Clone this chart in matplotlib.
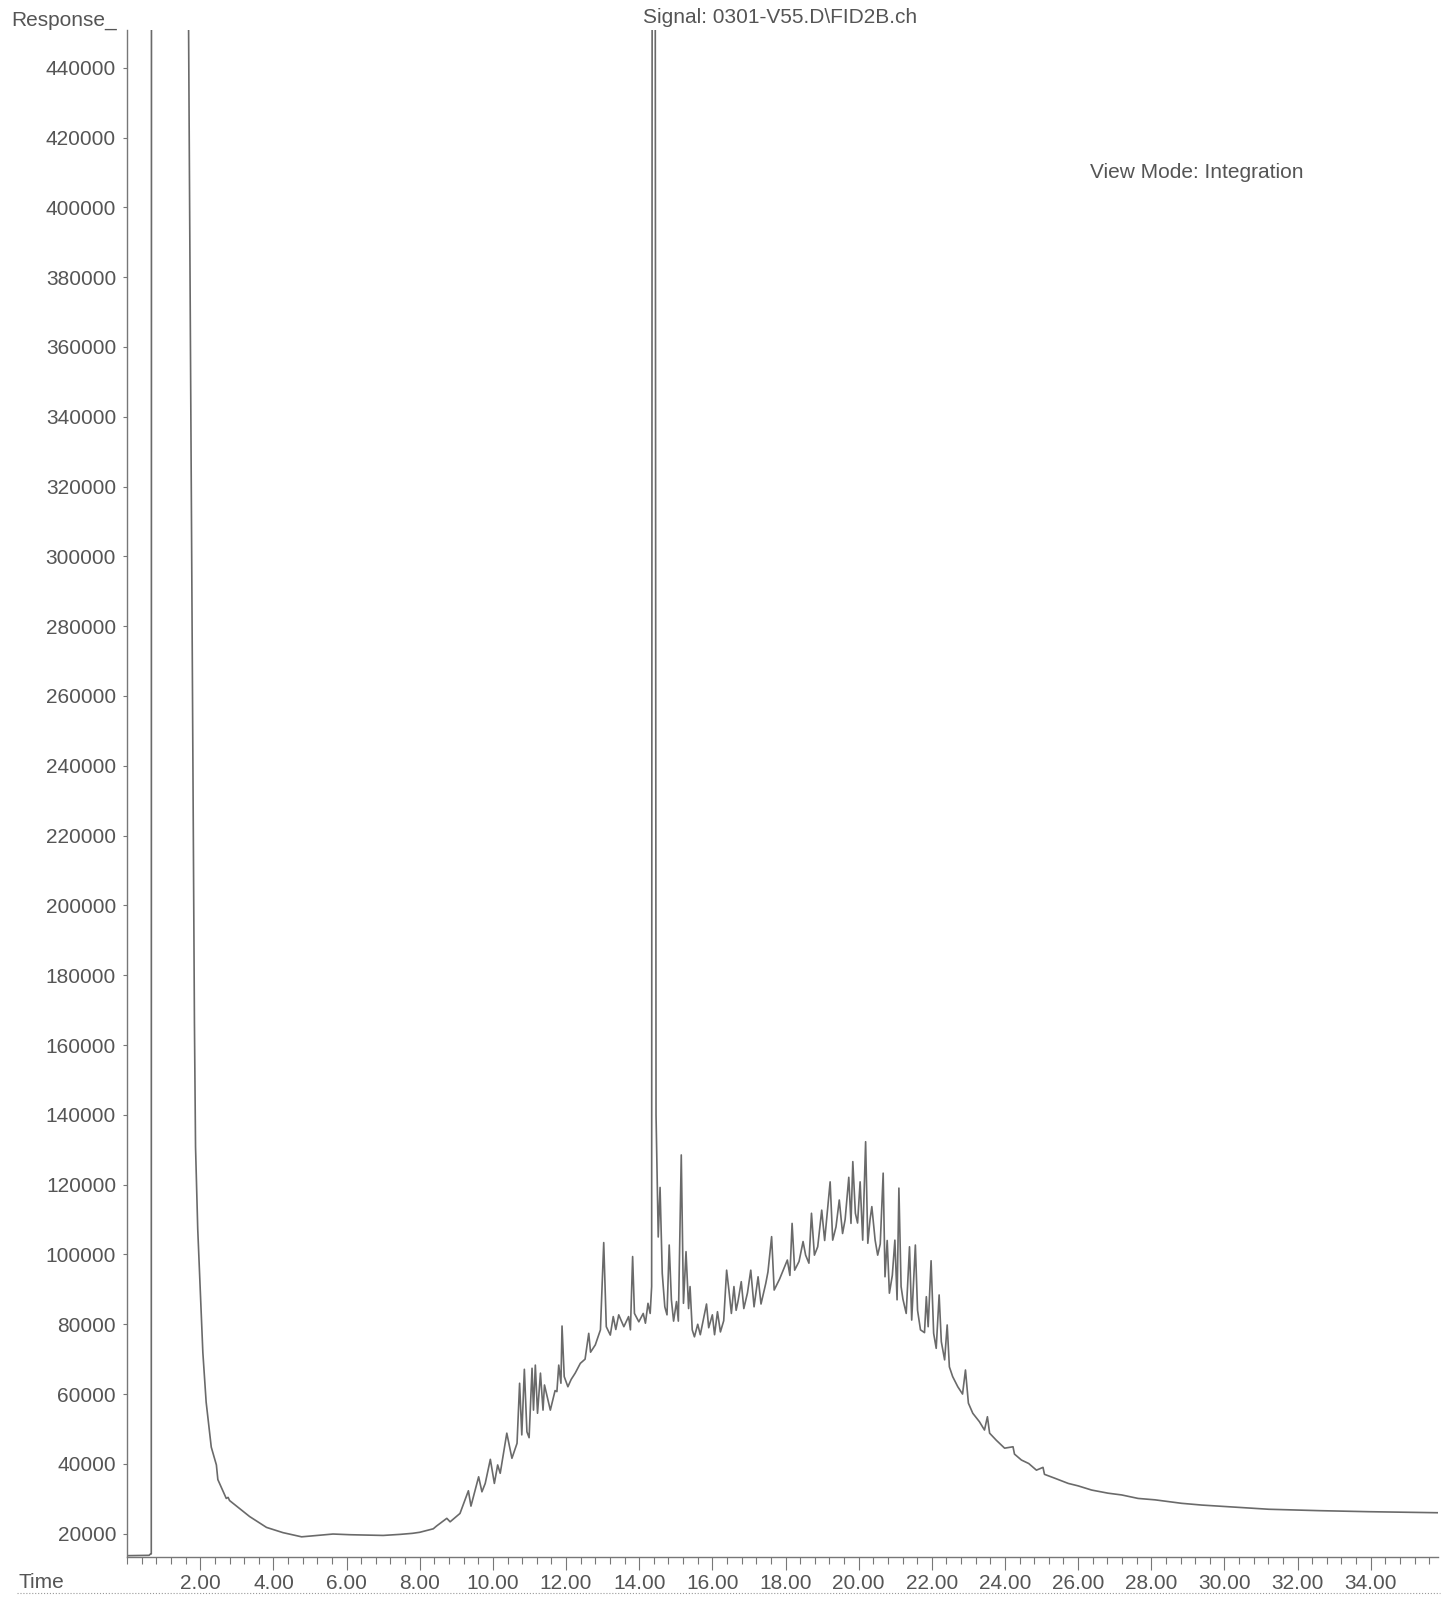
import matplotlib
matplotlib.use("Agg")
import matplotlib.pyplot as plt
from matplotlib.ticker import MultipleLocator

# trace (minutes, response)
time = [0.00, 0.60, 0.64, 0.66, 0.67, 1.43, 1.82, 1.84, 1.87, 1.93, 2.00, 2.07, 2.16,
        2.30, 2.44, 2.48, 2.71, 2.76, 2.80, 3.35, 3.81, 4.26, 4.77, 5.20, 5.63, 6.10,
        6.55, 7.00, 7.46, 7.80, 8.00, 8.37, 8.46, 8.74, 8.83, 9.10, 9.33, 9.40, 9.61,
        9.70, 9.79, 9.93, 10.04, 10.13, 10.20, 10.38, 10.52, 10.66, 10.73, 10.79, 10.86,
        10.93, 10.99, 11.07, 11.11, 11.16, 11.22, 11.30, 11.37, 11.41, 11.57, 11.70,
        11.75, 11.80, 11.86, 11.89, 11.95, 12.05, 12.14, 12.25, 12.39, 12.52, 12.62,
        12.67, 12.80, 12.94, 13.03, 13.10, 13.21, 13.29, 13.36, 13.44, 13.58, 13.71,
        13.76, 13.82, 13.87, 13.99, 14.11, 14.17, 14.24, 14.30, 14.34, 14.37, 14.41,
        14.46, 14.52, 14.57, 14.63, 14.70, 14.76, 14.82, 14.88, 14.94, 15.02, 15.07,
        15.15, 15.21, 15.28, 15.35, 15.39, 15.45, 15.51, 15.60, 15.67, 15.84, 15.90,
        16.00, 16.06, 16.14, 16.22, 16.31, 16.39, 16.45, 16.52, 16.59, 16.65, 16.70,
        16.79, 16.86, 16.96, 17.05, 17.14, 17.25, 17.33, 17.46, 17.52, 17.62, 17.69,
        17.84, 18.05, 18.12, 18.18, 18.25, 18.37, 18.48, 18.55, 18.64, 18.71, 18.79,
        18.88, 18.99, 19.07, 19.22, 19.29, 19.38, 19.47, 19.56, 19.63, 19.73, 19.79,
        19.84, 19.91, 19.97, 20.04, 20.11, 20.19, 20.25, 20.31, 20.36, 20.45, 20.52,
        20.59, 20.67, 20.72, 20.78, 20.84, 20.92, 20.99, 21.05, 21.10, 21.16, 21.21,
        21.30, 21.39, 21.45, 21.55, 21.61, 21.69, 21.80, 21.85, 21.90, 21.98, 22.05,
        22.12, 22.20, 22.26, 22.35, 22.42, 22.48, 22.57, 22.71, 22.84, 22.92, 23.00,
        23.12, 23.30, 23.44, 23.52, 23.58, 23.76, 23.99, 24.22, 24.26, 24.45, 24.65,
        24.86, 25.04, 25.08, 25.36, 25.73, 26.00, 26.37, 26.82, 27.19, 27.64, 28.10,
        28.83, 29.38, 30.29, 31.21, 32.58, 33.95, 35.84]
response = [13700, 13800, 14200, 14200, 900000, 900000, 200000, 166300, 130800, 107300,
            89500, 71900, 57700, 44800, 39700, 35500, 30100, 30400, 29500, 24900, 21800,
            20300, 19100, 19500, 19900, 19700, 19600, 19500, 19800, 20100, 20400, 21400,
            22200, 24400, 23400, 25800, 32300, 27900, 36300, 32000, 34400, 41300, 34400,
            39700, 37300, 48800, 41600, 45900, 63100, 48300, 67100, 49200, 47500, 67400,
            55400, 68300, 54500, 66000, 55400, 62600, 55400, 61000, 60700, 68300, 63100,
            79500, 65000, 62100, 64200, 66000, 68800, 70000, 77400, 72000, 74100, 78400,
            103400, 79300, 76900, 82200, 78500, 82700, 79300, 82200, 78400, 99400, 83100,
            80700, 83100, 80300, 86000, 83100, 90800, 900000, 900000, 140000, 105000,
            119200, 94600, 85000, 82700, 102700, 87000, 80900, 86500, 80900, 128500,
            86000, 100800, 84500, 90800, 78400, 76400, 80000, 77000, 85800, 79000, 82700,
            77000, 83600, 77800, 81000, 95500, 90000, 83100, 90800, 84000, 86500, 92200,
            84500, 89000, 95500, 85000, 93600, 85800, 91700, 95000, 105100, 89800, 93000,
            98400, 94000, 108900, 95500, 98000, 103700, 99800, 97500, 111800, 99800,
            102200, 112700, 104000, 120800, 104100, 107900, 115600, 106000, 110000,
            122100, 108900, 126600, 111800, 109000, 120800, 104100, 132300, 103200,
            109900, 113700, 104100, 99800, 103000, 123300, 93600, 104000, 88900, 94000,
            104100, 87000, 119000, 90800, 87200, 83100, 102200, 81200, 102700, 84000,
            78400, 77600, 87900, 79300, 98200, 77400, 73100, 88400, 75000, 69800, 79800,
            67800, 65000, 62100, 60000, 66900, 57400, 54500, 52100, 49700, 53500, 48800,
            46800, 44500, 44900, 42800, 41100, 40100, 38200, 39000, 37000, 35900, 34400,
            33700, 32500, 31600, 31100, 30100, 29700, 28700, 28200, 27600, 27000, 26600,
            26300, 26000]

y_ticks = [20000 * k for k in range(1, 23)]
x_ticks = [2.0 * k for k in range(1, 18)]

plt.rcParams['font.family'] = ['Liberation Sans', 'DejaVu Sans']
grey = '#555555'

fig = plt.figure(figsize=(14.53, 16.02), dpi=100)
ax = fig.add_axes([0.0875, 0.0281, 0.9897 - 0.0875, 0.98127 - 0.0281])

ax.plot(time, response, color='#6a6a6a', linewidth=1.2)

ax.set_xlim(0, 35.84)
ax.set_ylim(13325, 450800)

for s in ['top', 'right']:
    ax.spines[s].set_visible(False)
for s in ['left', 'bottom']:
    ax.spines[s].set_color('#777777')
    ax.spines[s].set_linewidth(1.0)

ax.set_yticks(y_ticks)
ax.set_yticklabels([str(v) for v in y_ticks])
ax.set_xticks(x_ticks)
ax.set_xticklabels(['%.2f' % v for v in x_ticks])
ax.xaxis.set_minor_locator(MultipleLocator(0.4))

ax.tick_params(axis='y', length=3, width=0.8, color='#777777', pad=5,
               labelsize=15, labelcolor=grey)
ax.tick_params(axis='x', which='major', length=9, width=0.8, color='#777777', pad=3,
               labelsize=15, labelcolor=grey)
ax.tick_params(axis='x', which='minor', length=5, width=0.8, color='#777777')

# header and corner labels
fig.text(0.5368, 0.9888, r'Signal: 0301-V55.D\FID2B.ch', ha='center', va='center',
         fontsize=15, color=grey)
fig.text(0.8238, 0.8922, 'View Mode: Integration', ha='center', va='center',
         fontsize=15, color=grey)
fig.text(0.0080, 0.9875, 'Response_', ha='left', va='center', fontsize=15, color=grey)
fig.text(0.0130, 0.0119, 'Time', ha='left', va='center', fontsize=15, color=grey)

# dotted rule under the time axis
fig.add_artist(plt.Line2D([0.012, 0.991], [0.0056, 0.0056], color='#999999',
                          linewidth=0.8, linestyle=':'))

fig.savefig('out.png', dpi=100)
